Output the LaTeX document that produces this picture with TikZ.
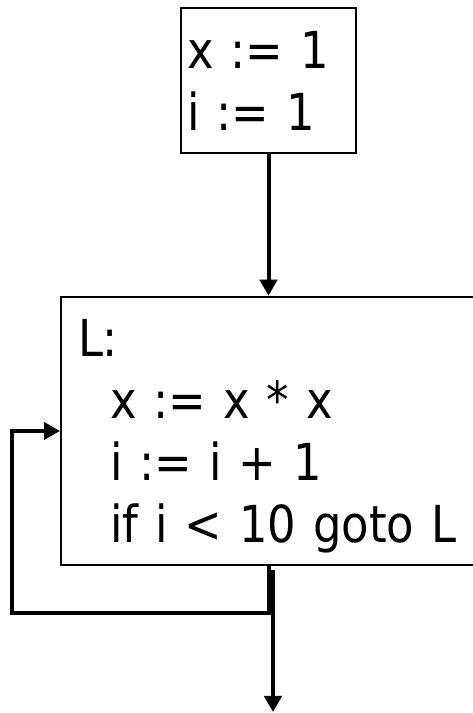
\documentclass[tikz,border=0pt]{standalone}
\usepackage{fontspec}
\setmainfont{DejaVu Sans}[FakeStretch = 0.88]
\usetikzlibrary{arrows.meta}
\newcommand{\tallstrut}{\rule{0pt}{60pt}}
\newcommand{\deepstrut}{\rule[-22.5pt]{0pt}{22.5pt}}

\begin{document}
\begin{tikzpicture}[x=1pt, y=1pt]
\tikzset{
   node distance = 350.5pt, >={Triangle[length=16pt, width=17pt]},
   block/.style = {rectangle, draw, line width = 2pt, inner ysep = 0pt, align = left,
                   font = \fontsize{51}{62}\selectfont},
   init_block/.style = {block, inner xsep = 6pt, text width = 163pt, minimum height = 145pt},
   loop_block/.style = {block, inner xsep = 17pt, text width = 396pt, minimum height = 268pt},
   flow/.style = {->, line width = 4pt}
 }
  \useasboundingbox (0,0) rectangle (473,713);

  \node[init_block] (init) at (268.5,632.5) {\tallstrut x := 1\\ i := 1\deepstrut};
  \node[loop_block] (loop) [below of = init, xshift = 7.5pt]
        {\tallstrut L:\\ \hspace*{32pt}x := x * x\\ \hspace*{32pt}i := i + 1\\
         \hspace*{32pt}if i < 10 goto L\deepstrut};

  \coordinate (split) at (init |- loop.south);
  \coordinate (back) at (12.3,100);
  \coordinate (out) at ([xshift = 4.5pt] split |- 0,1);

  \draw[flow] (init) -- (init |- loop.north);
  \draw[flow] (split) |- (back) |- (loop.west);
  \draw[flow] ([xshift = 4.5pt, yshift = -4pt] split) -- (out);

\end{tikzpicture}
\end{document}
